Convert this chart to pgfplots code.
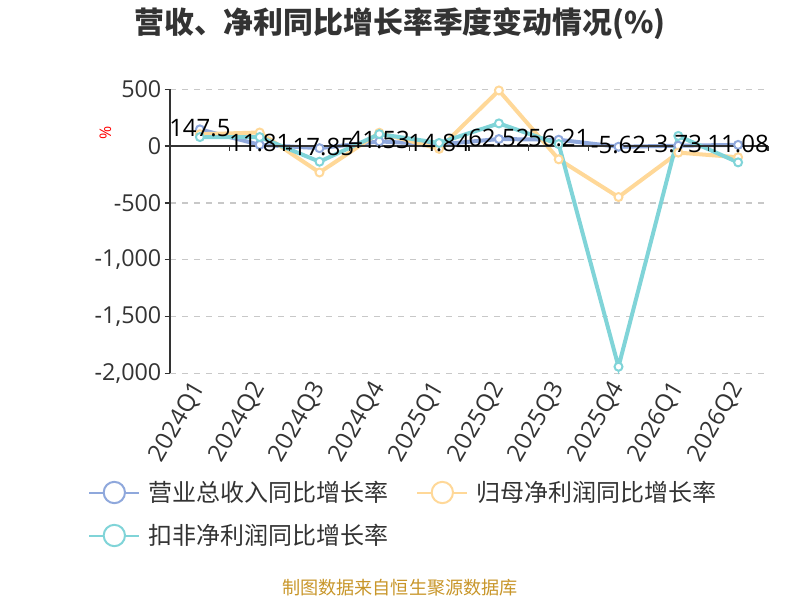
\documentclass[border=0pt]{standalone}
\usepackage{pgfplots}
\pgfplotsset{compat=1.18}
\usepackage{fontspec}
\setmainfont{Open Sans}
\newfontfamily\cjk{Noto Sans CJK SC}
\definecolor{cblue}{RGB}{143,168,220}
\definecolor{corange}{RGB}{255,216,152}
\definecolor{ccyan}{RGB}{128,212,216}
\definecolor{txt}{RGB}{51,51,51}
\definecolor{foot}{RGB}{200,150,42}
\definecolor{gridc}{RGB}{200,200,200}
\begin{document}
\begin{tikzpicture}[x=1pt,y=1pt]
\path[use as bounding box] (0,0) rectangle (600,-450);
\begin{axis}[
  at={(127.5pt,-67pt)}, anchor=north west,
  scale only axis, width=448.5pt, height=213pt,
  xmin=-0.5, xmax=9.5, ymin=-2000, ymax=500,
  clip=false,
  axis y line=left, axis x line=bottom,
  x axis line style={draw=none,-},
  y axis line style={-,draw=txt,line width=1pt},
  xtick={0,...,9},
  xticklabels={2024Q1,2024Q2,2024Q3,2024Q4,2025Q1,2025Q2,2025Q3,2025Q4,2026Q1,2026Q2},
  x tick label style={rotate=60, anchor=east, font=\fontsize{18}{20}\selectfont, text=txt, yshift=-2pt},
  major x tick style={draw=none},
  ytick={-2000,-1500,-1000,-500,0,500},
  y tick label style={font=\fontsize{17.5}{19}\selectfont, text=txt, xshift=1pt},
  /pgf/number format/assume math mode=true,
  /pgf/number format/1000 sep={,},
  tick align=outside, major tick length=4pt,
  major y tick style={draw=txt, line width=1pt},
  ymajorgrids, major grid style={gridc, line width=0.9pt, dash pattern=on 4.5pt off 4.5pt},
  legend columns=2,
  legend style={at={(-0.137,-0.37)}, anchor=north west, draw=none, fill=none,
    font=\cjk\fontsize{18}{20}\selectfont, text=txt, inner sep=0pt,
    /tikz/every odd column/.append style={column sep=4pt},
    /tikz/every even column/.append style={column sep=19pt}, row sep=11.5pt},
  legend image code/.code={
    \draw[line width=1.5pt] (0pt,0pt) -- (37.5pt,0pt);
    \draw[line width=1.5pt, fill=white] (18.75pt,0pt) circle (8pt);
  },
]
\addplot[cblue, line width=3pt, mark=*, mark size=3pt, mark options={fill=white, draw=cblue, line width=1.5pt}]
  coordinates {(0,147.5) (1,11.81) (2,-17.85) (3,41.53) (4,14.84) (5,62.52) (6,56.21) (7,-5.62) (8,3.73) (9,11.08)};
\addlegendentry{营业总收入同比增长率}
\addplot[corange, line width=3pt, mark=*, mark size=3pt, mark options={fill=white, draw=corange, line width=1.5pt}]
  coordinates {(0,105) (1,120) (2,-232) (3,118) (4,-24) (5,490) (6,-116) (7,-448) (8,-57) (9,-98)};
\addlegendentry{归母净利润同比增长率}
\addplot[ccyan, line width=3pt, mark=*, mark size=3pt, mark options={fill=white, draw=ccyan, line width=1.5pt}]
  coordinates {(0,80) (1,80) (2,-137) (3,106) (4,28) (5,200) (6,18) (7,-1942) (8,90) (9,-143)};
\addlegendentry{扣非净利润同比增长率}
\draw[txt, line width=1pt] (axis cs:-0.5,0) -- (axis cs:9.5,0);
\draw[txt, line width=1pt]
  (axis cs:0.5,0) -- (axis cs:0.5,-45) (axis cs:1.5,0) -- (axis cs:1.5,-45)
  (axis cs:2.5,0) -- (axis cs:2.5,-45) (axis cs:3.5,0) -- (axis cs:3.5,-45)
  (axis cs:4.5,0) -- (axis cs:4.5,-45) (axis cs:5.5,0) -- (axis cs:5.5,-45)
  (axis cs:6.5,0) -- (axis cs:6.5,-45) (axis cs:7.5,0) -- (axis cs:7.5,-45)
  (axis cs:8.5,0) -- (axis cs:8.5,-45) (axis cs:9.5,0) -- (axis cs:9.5,-45);
\addplot[draw=none, mark=none, forget plot, nodes near coords, point meta=explicit symbolic,
  every node near coord/.append style={anchor=center, font=\fontsize{18}{20}\selectfont, text=black, yshift=1pt}]
  coordinates {(0,147.5) [147.5] (1,11.81) [11.81] (2,-17.85) [-17.85] (3,41.53) [41.53] (4,14.84) [14.84]
   (5,62.52) [62.52] (6,56.21) [56.21] (7,-5.62) [-5.62] (8,3.73) [3.73] (9,11.08) [11.08]};
\end{axis}
\node[font=\cjk\bfseries\fontsize{22.4}{25}\selectfont, text=txt] at (300,-17.5) {营收、净利同比增长率季度变动情况(\%)};
\node[rotate=90, text=red, font=\fontsize{12}{14}\selectfont] at (79,-100) {\%};
\node[font=\cjk\fontsize{13.6}{15}\selectfont, text=foot] at (300,-441) {制图数据来自恒生聚源数据库};
\end{tikzpicture}
\end{document}
